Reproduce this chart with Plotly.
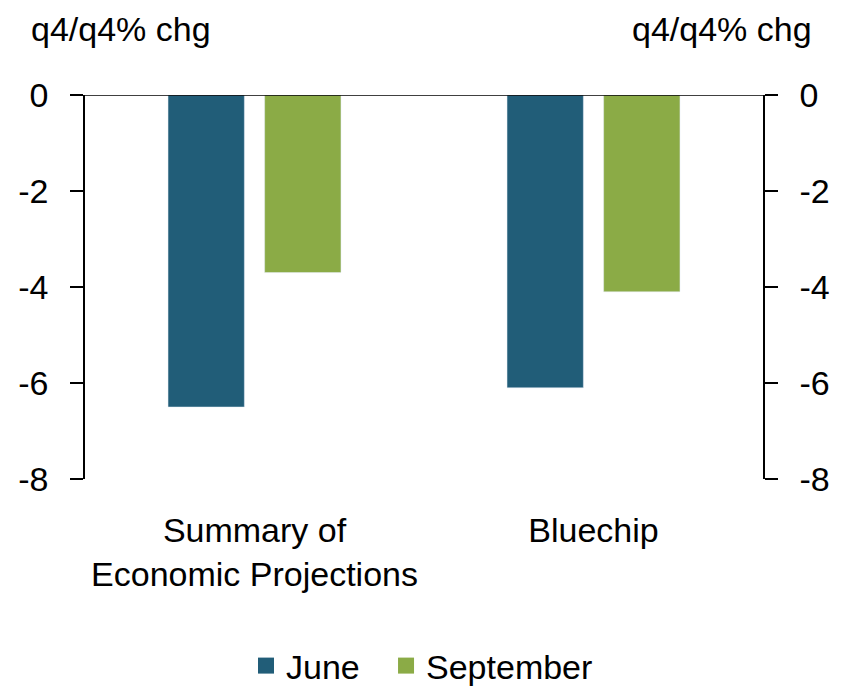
import plotly.graph_objects as go

# data
categories = ['Summary of<br>Economic Projections', 'Bluechip']
june = [-6.5, -6.1]
september = [-3.7, -4.1]
y_ticks = [0, -2, -4, -6, -8]
y_ticktext = ['0', '-2', '-4', '-6', '-8']

COLORS = {'june': '#215D78', 'september': '#8BAB46'}
FONT = 'Liberation Sans Narrow, Arial Narrow, Liberation Sans, Arial, sans-serif'
FS = 34

fig = go.Figure()
fig.add_trace(go.Bar(x=categories, y=june, name='June', marker_color=COLORS['june'],
                     showlegend=False))
fig.add_trace(go.Bar(x=categories, y=september, name='September',
                     marker_color=COLORS['september'], showlegend=False))
# invisible copy so the right axis gets drawn
fig.add_trace(go.Bar(x=categories, y=june, yaxis='y2', showlegend=False,
                     opacity=0, hoverinfo='skip'))

# legend entries with larger square swatches, one legend box each
for name, key, leg in [('June', 'june', 'legend'), ('September', 'september', 'legend2')]:
    fig.add_trace(go.Scatter(x=[None], y=[None], mode='markers', name=name, legend=leg,
                             marker={'symbol': 'square', 'size': 17, 'color': COLORS[key]}))

axis_common = dict(
    range=[-8, 0], tickvals=y_ticks, ticktext=y_ticktext,
    ticks='outside', ticklen=13, tickwidth=1.5,
    tickcolor='black', showline=True, linecolor='black', linewidth=1.5,
    showgrid=False, zeroline=False, ticklabelstandoff=15, automargin=False,
    tickfont={'size': FS, 'color': 'black', 'family': FONT},
)
legend_common = dict(orientation='h', xanchor='left', y=-0.5625, yanchor='bottom',
                     font={'size': FS, 'color': 'black', 'family': FONT})

# page body has an 8px margin, so the figure is trimmed by 8px on the left/top;
# extra height below the window keeps the legend from pushing the margins
fig.update_layout(
    width=838, height=710,
    plot_bgcolor='white', paper_bgcolor='white',
    barmode='group', bargap=0.43, bargroupgap=0.21,
    margin={'l': 77, 'r': 83, 't': 87, 'b': 239},
    font={'family': FONT, 'color': 'black'},
    xaxis=dict(showline=False, ticks='', showgrid=False, ticklabelstandoff=28, automargin=False,
               tickfont={'size': FS, 'color': 'black', 'family': FONT}),
    yaxis=dict(**axis_common),
    yaxis2=dict(**axis_common, overlaying='y', side='right'),
    legend=dict(**legend_common, x=0.2375),
    legend2=dict(**legend_common, x=0.444),
    showlegend=True,
)

# zero line across the plot
fig.add_shape(type='line', xref='paper', yref='y', x0=0, x1=1, y0=0, y1=0,
              line={'color': 'black', 'width': 1.5})

for x, anchor in [(-0.081, 'left'), (1.074, 'right')]:
    fig.add_annotation(text='q4/q4% chg', xref='paper', yref='paper', x=x, y=1.224,
                       xanchor=anchor, yanchor='top', showarrow=False, borderpad=0,
                       font={'size': FS, 'color': 'black', 'family': FONT})

fig.write_html('out.html')
